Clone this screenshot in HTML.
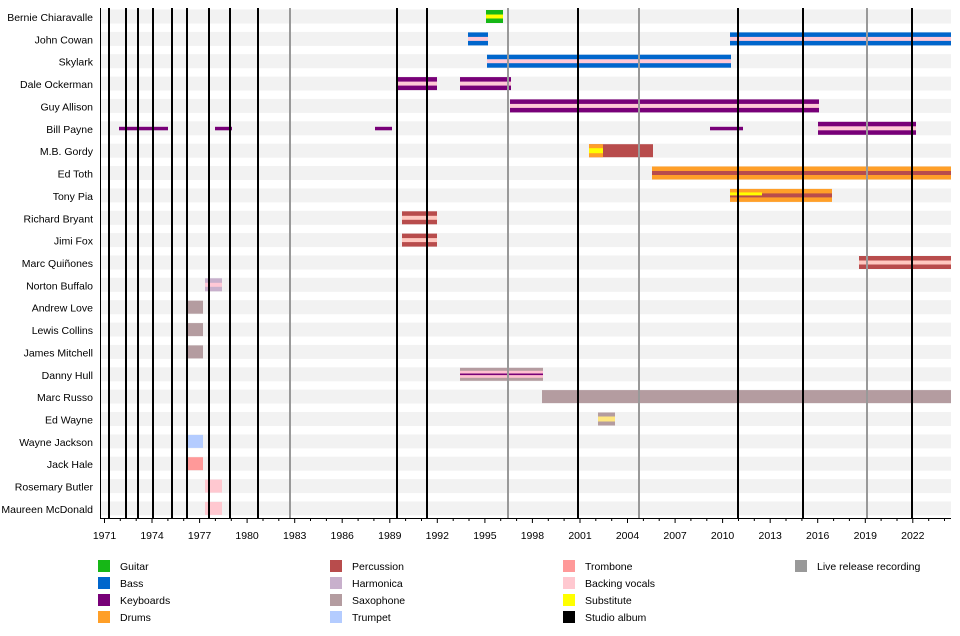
<!DOCTYPE html>
<html><head><meta charset="utf-8"><style>body{margin:0;background:#fff}svg{display:block;font-family:"Liberation Sans",sans-serif}</style></head><body>
<svg width="960" height="636" viewBox="0 0 960 636" xmlns="http://www.w3.org/2000/svg">
<g fill="#f2f2f2">
<rect x="100" y="9.5" width="851" height="14"/><rect x="100" y="31.9" width="851" height="14"/><rect x="100" y="54.2" width="851" height="14"/><rect x="100" y="76.6" width="851" height="14"/><rect x="100" y="98.9" width="851" height="14"/><rect x="100" y="121.3" width="851" height="14"/><rect x="100" y="143.7" width="851" height="14"/><rect x="100" y="166" width="851" height="14"/><rect x="100" y="188.4" width="851" height="14"/><rect x="100" y="210.8" width="851" height="14"/><rect x="100" y="233.1" width="851" height="14"/><rect x="100" y="255.5" width="851" height="14"/><rect x="100" y="277.8" width="851" height="14"/><rect x="100" y="300.2" width="851" height="14"/><rect x="100" y="322.6" width="851" height="14"/><rect x="100" y="344.9" width="851" height="14"/><rect x="100" y="367.3" width="851" height="14"/><rect x="100" y="389.6" width="851" height="14"/><rect x="100" y="412" width="851" height="14"/><rect x="100" y="434.4" width="851" height="14"/><rect x="100" y="456.7" width="851" height="14"/><rect x="100" y="479.1" width="851" height="14"/><rect x="100" y="501.4" width="851" height="14"/>
</g>
<g font-size="10.5" fill="#000" text-anchor="end">
<text x="93" y="21">Bernie Chiaravalle</text><text x="93" y="43.4">John Cowan</text><text x="93" y="65.7">Skylark</text><text x="93" y="88.1">Dale Ockerman</text><text x="93" y="110.4">Guy Allison</text><text x="93" y="132.8">Bill Payne</text><text x="93" y="155.2">M.B. Gordy</text><text x="93" y="177.5">Ed Toth</text><text x="93" y="199.9">Tony Pia</text><text x="93" y="222.3">Richard Bryant</text><text x="93" y="244.6">Jimi Fox</text><text x="93" y="267">Marc Quiñones</text><text x="93" y="289.3">Norton Buffalo</text><text x="93" y="311.7">Andrew Love</text><text x="93" y="334.1">Lewis Collins</text><text x="93" y="356.4">James Mitchell</text><text x="93" y="378.8">Danny Hull</text><text x="93" y="401.1">Marc Russo</text><text x="93" y="423.5">Ed Wayne</text><text x="93" y="445.9">Wayne Jackson</text><text x="93" y="468.2">Jack Hale</text><text x="93" y="490.6">Rosemary Butler</text><text x="93" y="512.9">Maureen McDonald</text>
</g>
<rect x="486" y="10" width="17" height="13" fill="#16b716"/><rect x="486" y="14.5" width="17" height="4" fill="#ffff00"/>
<rect x="468" y="32.4" width="20" height="13" fill="#0066cc"/><rect x="468" y="36.9" width="20" height="4" fill="#ffc8d6"/>
<rect x="730" y="32.4" width="221" height="13" fill="#0066cc"/><rect x="730" y="36.9" width="221" height="4" fill="#ffc8d6"/>
<rect x="487" y="54.7" width="244" height="13" fill="#0066cc"/><rect x="487" y="59.2" width="244" height="4" fill="#ffc8d6"/>
<rect x="397" y="77.1" width="40" height="13" fill="#780078"/><rect x="397" y="81.6" width="40" height="4" fill="#ffc8d6"/>
<rect x="460" y="77.1" width="51" height="13" fill="#780078"/><rect x="460" y="81.6" width="51" height="4" fill="#ffc8d6"/>
<rect x="510" y="99.4" width="309" height="13" fill="#780078"/><rect x="510" y="103.9" width="309" height="4" fill="#ffc8d6"/>
<g fill="#780078"><rect x="119" y="126.8" width="49" height="3.5"/><rect x="215" y="126.8" width="17" height="3.5"/><rect x="375" y="126.8" width="17" height="3.5"/><rect x="710" y="126.8" width="33" height="3.5"/></g>
<rect x="818" y="121.8" width="98" height="13" fill="#780078"/><rect x="818" y="126.3" width="98" height="4" fill="#ffc8d6"/>
<rect x="589" y="144.2" width="64" height="13" fill="#b84c4c"/><rect x="589" y="144.2" width="14" height="13" fill="#ff9f28"/><rect x="589" y="148.2" width="14" height="5" fill="#ffff00"/>
<rect x="652" y="166.5" width="299" height="13" fill="#ff9f28"/><rect x="652" y="171" width="299" height="4" fill="#b84c4c"/>
<rect x="730" y="188.9" width="102" height="13" fill="#ff9f28"/><rect x="730" y="193.4" width="102" height="4" fill="#b84c4c"/><rect x="730" y="192.4" width="32" height="3" fill="#ffff00"/>
<rect x="402" y="211.3" width="35" height="13" fill="#b84c4c"/><rect x="402" y="215.8" width="35" height="4" fill="#ffc8c0"/>
<rect x="402" y="233.6" width="35" height="13" fill="#b84c4c"/><rect x="402" y="238.1" width="35" height="4" fill="#ffc8c0"/>
<rect x="859" y="256" width="92" height="13" fill="#b84c4c"/><rect x="859" y="260.5" width="92" height="4" fill="#ffc8c0"/>
<rect x="205" y="278.3" width="17" height="13" fill="#c8b0cc"/><rect x="205" y="282.8" width="17" height="4" fill="#ffc8d6"/>
<g fill="#b49ca0"><rect x="187" y="300.7" width="16" height="13"/><rect x="187" y="323.1" width="16" height="13"/><rect x="187" y="345.4" width="16" height="13"/></g>
<rect x="460" y="367.8" width="83" height="13" fill="#b49ca0"/><rect x="460" y="370.8" width="83" height="7" fill="#ffc0d0"/><rect x="460" y="373.5" width="83" height="1.6" fill="#780078"/>
<rect x="542" y="390.1" width="409" height="13" fill="#b49ca0"/>
<rect x="598" y="412.5" width="17" height="13" fill="#b49ca0"/><rect x="598" y="416.5" width="17" height="5" fill="#ffe680"/>
<rect x="187" y="434.9" width="16" height="13" fill="#b4ccff"/>
<rect x="187" y="457.2" width="16" height="13" fill="#ff9999"/>
<rect x="205" y="479.6" width="17" height="13" fill="#ffc8d0"/>
<rect x="205" y="501.9" width="17" height="13" fill="#ffc8d0"/>
<g stroke="#999" stroke-width="2"><line x1="290" y1="8" x2="290" y2="518"/><line x1="508" y1="8" x2="508" y2="518"/><line x1="639" y1="8" x2="639" y2="518"/><line x1="867" y1="8" x2="867" y2="518"/></g>
<g stroke="#000" stroke-width="2"><line x1="109" y1="8" x2="109" y2="518"/><line x1="126" y1="8" x2="126" y2="518"/><line x1="138" y1="8" x2="138" y2="518"/><line x1="153" y1="8" x2="153" y2="518"/><line x1="172" y1="8" x2="172" y2="518"/><line x1="187" y1="8" x2="187" y2="518"/><line x1="209" y1="8" x2="209" y2="518"/><line x1="230" y1="8" x2="230" y2="518"/><line x1="258" y1="8" x2="258" y2="518"/><line x1="397" y1="8" x2="397" y2="518"/><line x1="427" y1="8" x2="427" y2="518"/><line x1="578" y1="8" x2="578" y2="518"/><line x1="738" y1="8" x2="738" y2="518"/><line x1="803" y1="8" x2="803" y2="518"/><line x1="912" y1="8" x2="912" y2="518"/></g>
<line x1="100.5" y1="8" x2="100.5" y2="518" stroke="#000" stroke-width="1"/>
<line x1="100" y1="518.5" x2="951" y2="518.5" stroke="#000" stroke-width="1"/>
<g stroke="#000" stroke-width="1">
<path d="M104.5 518v5M120.3 518v3M136.2 518v3M152 518v5M167.9 518v3M183.7 518v3M199.6 518v5M215.4 518v3M231.3 518v3M247.1 518v5M263 518v3M278.8 518v3M294.7 518v5M310.5 518v3M326.4 518v3M342.2 518v5M358.1 518v3M373.9 518v3M389.8 518v5M405.6 518v3M421.5 518v3M437.3 518v5M453.2 518v3M469 518v3M484.9 518v5M500.7 518v3M516.6 518v3M532.4 518v5M548.3 518v3M564.1 518v3M580 518v5M595.8 518v3M611.7 518v3M627.5 518v5M643.4 518v3M659.2 518v3M675.1 518v5M690.9 518v3M706.8 518v3M722.6 518v5M738.5 518v3M754.3 518v3M770.2 518v5M786 518v3M801.9 518v3M817.7 518v5M833.6 518v3M849.4 518v3M865.3 518v5M881.1 518v3M897 518v3M912.8 518v5M928.7 518v3M944.5 518v3"/>
</g>
<g font-size="10.5" text-anchor="middle">
<text x="104.5" y="539">1971</text><text x="152" y="539">1974</text><text x="199.6" y="539">1977</text><text x="247.1" y="539">1980</text><text x="294.7" y="539">1983</text><text x="342.2" y="539">1986</text><text x="389.8" y="539">1989</text><text x="437.3" y="539">1992</text><text x="484.9" y="539">1995</text><text x="532.4" y="539">1998</text><text x="580" y="539">2001</text><text x="627.5" y="539">2004</text><text x="675.1" y="539">2007</text><text x="722.6" y="539">2010</text><text x="770.2" y="539">2013</text><text x="817.7" y="539">2016</text><text x="865.3" y="539">2019</text><text x="912.8" y="539">2022</text>
</g>
<g>
<rect x="98" y="560" width="12" height="12" fill="#16b716"/><rect x="98" y="577" width="12" height="12" fill="#0066cc"/><rect x="98" y="594" width="12" height="12" fill="#780078"/><rect x="98" y="611" width="12" height="12" fill="#ff9f28"/>
<rect x="330" y="560" width="12" height="12" fill="#b84c4c"/><rect x="330" y="577" width="12" height="12" fill="#c8b0cc"/><rect x="330" y="594" width="12" height="12" fill="#b49ca0"/><rect x="330" y="611" width="12" height="12" fill="#b4ccff"/>
<rect x="563" y="560" width="12" height="12" fill="#ff9999"/><rect x="563" y="577" width="12" height="12" fill="#ffc8d0"/><rect x="563" y="594" width="12" height="12" fill="#ffff00"/><rect x="563" y="611" width="12" height="12" fill="#000"/>
<rect x="795" y="560" width="12" height="12" fill="#999"/>
</g>
<g font-size="10.5">
<text x="120" y="570">Guitar</text><text x="120" y="587">Bass</text><text x="120" y="604">Keyboards</text><text x="120" y="621">Drums</text>
<text x="352" y="570">Percussion</text><text x="352" y="587">Harmonica</text><text x="352" y="604">Saxophone</text><text x="352" y="621">Trumpet</text>
<text x="585" y="570">Trombone</text><text x="585" y="587">Backing vocals</text><text x="585" y="604">Substitute</text><text x="585" y="621">Studio album</text>
<text x="817" y="570">Live release recording</text>
</g>
</svg>
</body></html>
